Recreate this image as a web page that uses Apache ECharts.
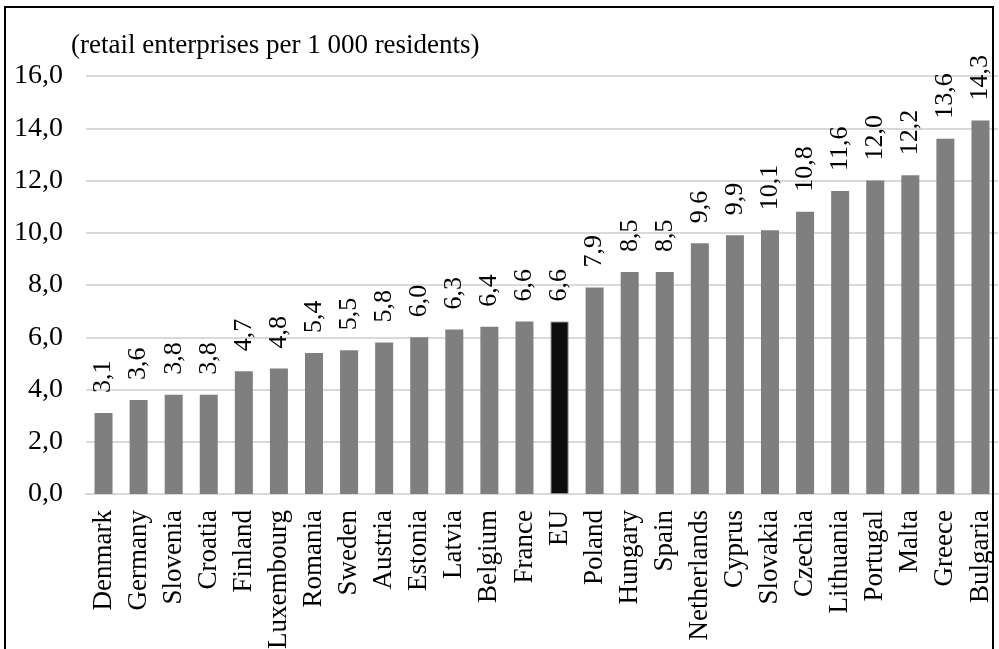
<!DOCTYPE html>
<html>
<head>
<meta charset="utf-8">
<script src="https://cdn.jsdelivr.net/npm/echarts@6/dist/echarts.min.js"></script>
<style>
  html, body { margin: 0; padding: 0; background: #ffffff; }
  #chart { width: 999px; height: 649px; }
</style>
</head>
<body>
<div id="chart"></div>
<script>
// Retail enterprises per 1 000 residents, by country
const countries = ['Denmark', 'Germany', 'Slovenia', 'Croatia', 'Finland', 'Luxembourg', 'Romania',
  'Sweden', 'Austria', 'Estonia', 'Latvia', 'Belgium', 'France', 'EU', 'Poland', 'Hungary', 'Spain',
  'Netherlands', 'Cyprus', 'Slovakia', 'Czechia', 'Lithuania', 'Portugal', 'Malta', 'Greece', 'Bulgaria'];
const enterprisesPer1000 = [3.1, 3.6, 3.8, 3.8, 4.7, 4.8, 5.4, 5.5, 5.8, 6.0, 6.3, 6.4, 6.6, 6.6,
  7.9, 8.5, 8.5, 9.6, 9.9, 10.1, 10.8, 11.6, 12.0, 12.2, 13.6, 14.3];
const yTicks = { min: 0, max: 16, interval: 2 };
const unitLabel = '(retail enterprises per 1 000 residents)';
const highlighted = 'EU';

const FONT = '"Liberation Serif", "Times New Roman", serif';
const fmt = v => v.toFixed(1).replace('.', ',');

const chart = echarts.init(document.getElementById('chart'), null, { renderer: 'canvas' });

const barData = enterprisesPer1000.map((v, i) => {
  if (countries[i] === highlighted) {
    return { value: v, itemStyle: { color: '#0d0d0d', borderColor: '#8a8a8a', borderWidth: 1 } };
  }
  return v;
});

chart.setOption({
  animation: false,
  backgroundColor: '#ffffff',
  graphic: [{
    type: 'rect',
    shape: { x: 5, y: 7, width: 988, height: 700 },
    style: { fill: 'none', stroke: '#000000', lineWidth: 2 },
    silent: true,
    z: 100
  }],
  title: {
    text: unitLabel,
    left: 66,
    top: 27,
    textStyle: { fontFamily: FONT, fontSize: 27, fontWeight: 'normal', color: '#000000' }
  },
  grid: {
    left: 86, right: 1, top: 76, bottom: 155,
    containLabel: false,
    outerBoundsMode: 'none'
  },
  xAxis: {
    type: 'category',
    data: countries,
    axisTick: { show: false },
    axisLine: { lineStyle: { color: '#d9d9d9', width: 2 } },
    axisLabel: {
      rotate: 90,
      interval: 0,
      margin: 16,
      fontFamily: FONT,
      fontSize: 27,
      color: '#000000'
    }
  },
  yAxis: {
    type: 'value',
    min: yTicks.min,
    max: yTicks.max,
    interval: yTicks.interval,
    axisLine: { show: false },
    axisTick: { show: false },
    splitLine: { lineStyle: { color: '#d9d9d9', width: 2 } },
    axisLabel: {
      margin: 23,
      fontFamily: FONT,
      fontSize: 28,
      color: '#000000',
      formatter: v => fmt(v)
    }
  },
  series: [{
    type: 'bar',
    data: barData,
    barWidth: 18,
    itemStyle: { color: '#7f7f7f' },
    label: {
      show: true,
      position: 'top',
      rotate: 90,
      align: 'left',
      verticalAlign: 'middle',
      distance: 20,
      fontFamily: FONT,
      fontSize: 26,
      color: '#000000',
      formatter: p => fmt(p.value)
    }
  }]
});
</script>
</body>
</html>
